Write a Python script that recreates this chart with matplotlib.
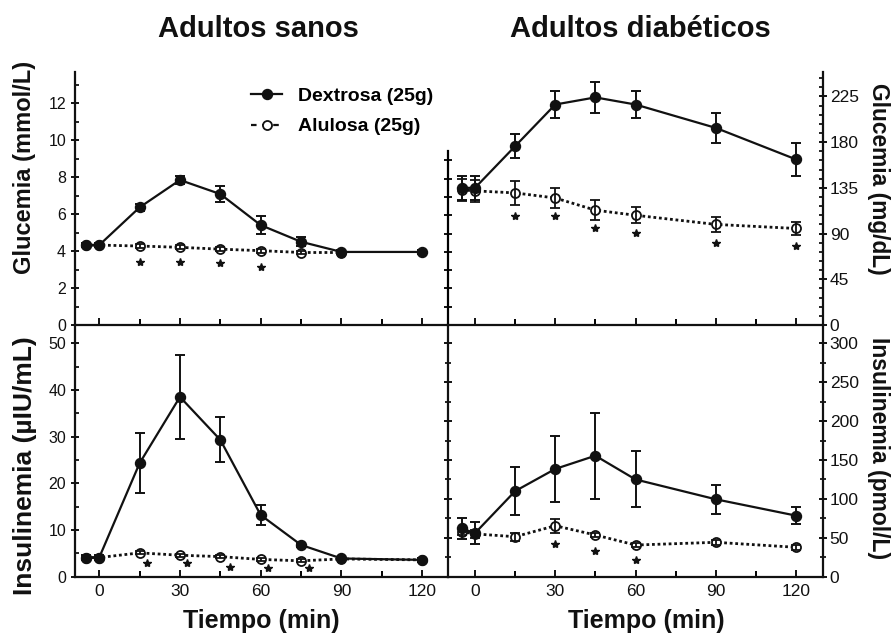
import matplotlib
matplotlib.use('Agg')
import matplotlib.pyplot as plt
from matplotlib.ticker import MultipleLocator, FixedLocator, NullFormatter
from matplotlib.lines import Line2D

plt.rcParams['font.family'] = ['Liberation Sans', 'DejaVu Sans']

# ---------------- data ----------------
t_sanos = [-5, 0, 15, 30, 45, 60, 75, 90, 120]
t_sanos_alu_glu = [-5, 0, 15, 30, 45, 60, 75, 90]
t_diab = [-5, 0, 15, 30, 45, 60, 90, 120]

# Healthy adults - glucose (mmol/L)
glu_sanos_dex = [4.32, 4.32, 6.36, 7.84, 7.08, 5.40, 4.50, 3.95, 3.95]
glu_sanos_dex_err = [0.12, 0.12, 0.20, 0.22, 0.45, 0.50, 0.25, 0.10, 0.10]
glu_sanos_alu = [4.32, 4.32, 4.27, 4.20, 4.10, 4.02, 3.92, 3.92]
glu_sanos_alu_err = [0.10, 0.10, 0.10, 0.10, 0.10, 0.10, 0.10, 0.10]
glu_sanos_star_x = [15, 30, 45, 60]
glu_sanos_star_y = [3.42, 3.42, 3.33, 3.15]

# Healthy adults - insulin (uIU/mL)
ins_sanos_dex = [4.1, 4.1, 24.3, 38.5, 29.3, 13.2, 6.8, 3.9, 3.6]
ins_sanos_dex_err = [0.5, 0.5, 6.4, 9.0, 4.8, 2.2, 0.5, 0.4, 0.4]
ins_sanos_alu = [4.1, 4.1, 5.1, 4.6, 4.3, 3.7, 3.4, 3.8, 3.6]
ins_sanos_alu_err = [0.3, 0.3, 0.3, 0.3, 0.3, 0.3, 0.3, 0.3, 0.3]
ins_sanos_star_x = [17.8, 32.7, 48.6, 62.9, 77.8]
ins_sanos_star_y = [2.9, 2.9, 2.1, 1.8, 1.8]

# Diabetic adults - glucose (mg/dL)
glu_diab_dex = [135, 135, 176, 217, 224, 217, 194, 163]
glu_diab_dex_err = [11.5, 11.5, 12, 13.5, 15, 13, 14.5, 16]
glu_diab_alu = [133, 132, 130, 125, 113, 108, 99, 95]
glu_diab_alu_err = [11, 11, 11.5, 10, 10, 8, 7.5, 6]
glu_diab_star_x = [15, 30, 45, 60, 90, 120]
glu_diab_star_y = [107, 107, 95.5, 90.6, 80.7, 77.8]

# Diabetic adults - insulin (pmol/L)
ins_diab_dex = [62, 56, 110, 138.5, 155.5, 125, 99.5, 78.5]
ins_diab_dex_err = [14, 14, 31, 42, 55, 36, 19, 11]
ins_diab_alu = [58, 55, 51.4, 65.5, 53.6, 40.7, 44.2, 37.8]
ins_diab_alu_err = [5, 5, 5, 9, 3, 3, 3, 3]
ins_diab_star_x = [30, 45, 60]
ins_diab_star_y = [42, 33.4, 21.5]

x_ticks = [0, 30, 60, 90, 120]
series_labels = ['Dextrosa (25g)', 'Alulosa (25g)']

# ---------------- figure ----------------
W, H = 896, 640
fig = plt.figure(figsize=(W / 100, H / 100), dpi=100)
fig.patch.set_facecolor('white')


def px_axes(x0, y0, x1, y1):
    return fig.add_axes([x0 / W, 1 - y1 / H, (x1 - x0) / W, (y1 - y0) / H])


ax_tl = px_axes(75, 72, 448, 325)
ax_tr = px_axes(448, 72, 823, 325)
ax_bl = px_axes(75, 325, 448, 576.7)
ax_br = px_axes(448, 325, 823, 576.7)

K = '#111111'
DOT = (0, (1, 1))


def draw(ax, t_dex, dex, dex_err, t_alu, alu, alu_err, sx, sy):
    ax.plot(t_alu, alu, color=K, lw=2.0, ls=DOT, zorder=2)
    ax.plot(t_alu, alu, ls='none', marker='o', ms=6.5, mfc='white', mec=K, mew=1.3, zorder=3)
    ax.errorbar(t_alu, alu, yerr=alu_err, fmt='none', ecolor=K, elinewidth=1.3,
                capsize=3.5, capthick=1.3, zorder=3.5)
    ax.plot(t_dex, dex, color=K, lw=1.6, zorder=4)
    ax.errorbar(t_dex, dex, yerr=dex_err, fmt='none', ecolor=K, elinewidth=1.4,
                capsize=3.8, capthick=1.4, zorder=4.5)
    ax.plot(t_dex, dex, ls='none', marker='o', ms=7.2, mfc=K, mec=K, zorder=5)
    ax.plot(sx, sy, ls='none', marker='*', ms=6, color=K, zorder=5)


draw(ax_tl, t_sanos, glu_sanos_dex, glu_sanos_dex_err, t_sanos_alu_glu, glu_sanos_alu,
     glu_sanos_alu_err, glu_sanos_star_x, glu_sanos_star_y)
draw(ax_bl, t_sanos, ins_sanos_dex, ins_sanos_dex_err, t_sanos, ins_sanos_alu,
     ins_sanos_alu_err, ins_sanos_star_x, ins_sanos_star_y)
draw(ax_tr, t_diab, glu_diab_dex, glu_diab_dex_err, t_diab, glu_diab_alu,
     glu_diab_alu_err, glu_diab_star_x, glu_diab_star_y)
draw(ax_br, t_diab, ins_diab_dex, ins_diab_dex_err, t_diab, ins_diab_alu,
     ins_diab_alu_err, ins_diab_star_x, ins_diab_star_y)

# limits
for ax in (ax_tl, ax_bl):
    ax.set_xlim(-9.0, 129.6)
for ax in (ax_tr, ax_br):
    ax.set_xlim(-10.1, 130.1)
ax_tl.set_ylim(0, 13.68)
ax_bl.set_ylim(0, 53.9)
ax_tr.set_ylim(0, 249)
ax_br.set_ylim(0, 323.5)

for ax in (ax_tl, ax_tr, ax_bl, ax_br):
    ax.set_facecolor('none')
    ax.spines['top'].set_visible(False)
    for s in ax.spines.values():
        s.set_linewidth(1.6)
        s.set_color(K)
    ax.xaxis.set_major_locator(FixedLocator(x_ticks))
    ax.xaxis.set_minor_locator(MultipleLocator(15))
    ax.tick_params(axis='x', which='major', direction='in', length=5, width=1.4,
                   labelsize=12.5, pad=5.5, colors=K)
    ax.tick_params(axis='x', which='minor', direction='in', length=4, width=1.4)

for ax in (ax_tl, ax_tr):
    ax.tick_params(axis='x', which='both', labelbottom=False)

# left panels
for ax in (ax_tl, ax_bl):
    ax.spines['right'].set_visible(False)
    ax.tick_params(axis='y', which='major', direction='inout', length=6, width=1.4,
                   labelsize=11.5, pad=3.4, colors=K)
    ax.tick_params(axis='y', which='minor', direction='in', length=3, width=1.2)
ax_tl.yaxis.set_major_locator(MultipleLocator(2))
ax_tl.yaxis.set_minor_locator(MultipleLocator(1))
ax_bl.yaxis.set_major_locator(MultipleLocator(10))
ax_bl.yaxis.set_minor_locator(MultipleLocator(5))

# right panels
ax_tr.spines['left'].set_visible(False)
ax_tr.yaxis.tick_right()
ax_tr.yaxis.set_major_locator(MultipleLocator(45))
ax_tr.yaxis.set_minor_locator(MultipleLocator(9))
ax_tr.tick_params(axis='y', which='major', direction='inout', length=6, width=1.4,
                  labelsize=12.5, pad=1.8, colors=K)
ax_tr.tick_params(axis='y', which='minor', direction='in', length=3, width=1.2)

sec = ax_tr.secondary_yaxis('left', functions=(lambda y: y / 18.0, lambda m: m * 18.0))
sec.yaxis.set_major_locator(FixedLocator(list(range(0, 10))))
sec.yaxis.set_major_formatter(NullFormatter())
sec.tick_params(axis='y', direction='inout', length=6, width=1.4, colors=K)
sec.spines['left'].set_bounds(0, 9.5)
sec.spines['left'].set_linewidth(1.6)

ax_br.yaxis.set_ticks_position('both')
ax_br.yaxis.set_major_locator(MultipleLocator(50))
ax_br.yaxis.set_minor_locator(MultipleLocator(25))
ax_br.tick_params(axis='y', which='major', direction='inout', length=6, width=1.4,
                  labelsize=12.5, pad=1.8, labelleft=False, labelright=True, colors=K)
ax_br.tick_params(axis='y', which='minor', direction='inout', length=5, width=1.2)

# legend
handles = [
    Line2D([], [], color=K, lw=1.6, marker='o', ms=7.2, mfc=K, mec=K),
    Line2D([], [], color=K, lw=1.6, ls=(0, (2.5, 2.5)), marker='o', ms=6.5,
           mfc='white', mec=K, mew=1.3),
]
fig.legend(handles, series_labels, loc='center left',
           bbox_to_anchor=(251 / W, 1 - 111.5 / H), frameon=False,
           prop={'weight': 'bold', 'size': 14}, handlelength=1.6, handletextpad=0.8,
           labelspacing=0.65, borderpad=0, borderaxespad=0)

# titles
fig.text(258 / W, 1 - 37 / H, 'Adultos sanos', ha='center', va='baseline',
         fontsize=21, fontweight='bold', color=K)
fig.text(640 / W, 1 - 37 / H, 'Adultos diabéticos', ha='center', va='baseline',
         fontsize=21, fontweight='bold', color=K)

# x labels
fig.text(261 / W, 1 - 628 / H, 'Tiempo (min)', ha='center', va='baseline',
         fontsize=18, fontweight='bold', color=K)
fig.text(646 / W, 1 - 628 / H, 'Tiempo (min)', ha='center', va='baseline',
         fontsize=18, fontweight='bold', color=K)

# y labels
fig.text(25 / W, 1 - 167 / H, 'Glucemia (mmol/L)', rotation=90, ha='center',
         va='center', fontsize=17, fontweight='bold', color=K)
fig.text(25 / W, 1 - 466 / H, 'Insulinemia (µIU/mL)', rotation=90, ha='center',
         va='center', fontsize=19, fontweight='bold', color=K)
fig.text(878 / W, 1 - 179 / H, 'Glucemia (mg/dL)', rotation=-90, ha='center',
         va='center', fontsize=16.4, fontweight='bold', color=K)
fig.text(878 / W, 1 - 448 / H, 'Insulinemia (pmol/L)', rotation=-90, ha='center',
         va='center', fontsize=16.5, fontweight='bold', color=K)

fig.savefig('out.png', dpi=100, facecolor='white')
